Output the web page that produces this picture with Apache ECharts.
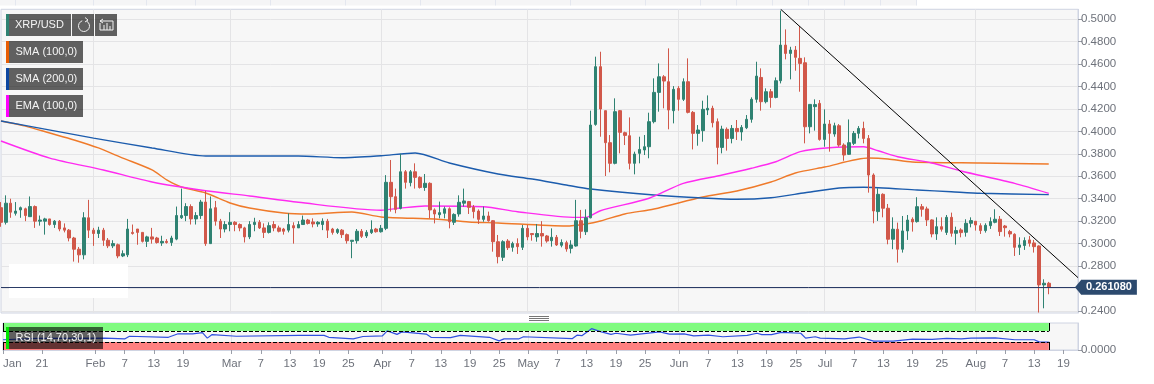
<!DOCTYPE html>
<html>
<head>
<meta charset="utf-8">
<style>html,body{margin:0;padding:0;background:#fff}#c{width:1154px;height:384px}</style>
<script src="https://cdn.jsdelivr.net/npm/echarts@6/dist/echarts.min.js"></script>
</head>
<body>
<div id="c"></div>
<script>
// Daily XRP/USD candles from 2019-01-13, in thousandths of a dollar: open, close, low, high
const candles = [
[332,319,315,337],[319,336,317,343],[336,328,323,340],[327,329,325,337],[330,332,323,333],[331,325,320,332],[324,333,324,342],[333,320,314,334],
[320,321,316,325],[320,322,308,323],[322,317,316,322],[317,320,314,321],[320,313,311,321],[314,312,310,318],[312,305,302,313],[305,295,284,306],
[295,290,283,297],[290,323,286,328],[323,312,305,339],[312,309,298,314],[309,312,305,315],[312,303,298,314],[303,298,296,305],[298,300,296,303],
[299,289,287,300],[289,291,288,294],[290,313,288,322],[310,309,308,317],[313,310,299,313],[310,302,301,310],[302,306,297,307],
[306,304,300,314],[305,301,300,306],[300.6,302,298,307],[302,301,300,304],[301,305,298,307],[304,325,303,333],[323,325,322,349],[325,333,320,336],
[333,322,317,335],[322,325,317,328],[325,337,322,339],[337,300,298,347],[300,331,300,342],[332,320,316,338],[320,313,305,322],[313,317,310,320],
[317,319,311,328],[319,317,311,320],[317,314,311,318],[314,306,301,315],[306,317,304,320],[317,319,311,323],[319,314,313,321],[314,310,305,318],
[310,316,309,319],[317,314,311,320],[314,311,310,316],[313,311,308,314],[312,317,310,327],[316,314,300,319],[314,317,314,320],[317,321,317,325],[321,318,317,322],
[319.3,317.5,314.5,322.5],[317.5,319,315,320],[317,320,312,322.5],[320,312,305,322],[313,310,308,314],[310,312.5,308.5,313.6],[312,308,305,313],[308,302.6,300,309],
[302,303,287,303],[302.6,311,300,313],[311,306.5,305,313],[306.8,310,305,312],[309.8,312.4,308.6,320.7],[313,310.6,309.8,314],[310.6,313.6,309.8,316.6],[313.6,354.6,312,361],
[354.6,341.8,328.5,374.5],[341.8,330.5,327,349],[331.4,364,330.5,380],[364,354.6,349,365.5],[354.3,364,351,365.5],[364,359,349,371.5],[359,350,349,360],[350,353.7,347,362],
[353.7,330,322.5,354.6],[330,326.4,318,331.4],[325.8,327.6,322.5,337.4],[327,331,322.5,333],[331,319.5,313.6,332.3],[319,326,316.6,327],[326.4,336.8,324,343],[336,338,333,349],
[337.4,332.3,326.4,338],[332.3,328.5,322.5,334.4],[329,321.6,317.5,330.5],[321.6,324.6,319.5,333],[324.6,320.4,319.5,328.5],[320.4,301.7,292.8,321],[301.7,288.4,282.4,307.7],[287.8,301.7,284.5,303],
[302.3,296.4,294.3,304],[296.7,300,292.8,301.7],[300,297.3,290.8,304.7],[296.7,313.6,294.3,316.6],[313.6,306,303,316.6],[309,308,302.6,309],[306,309,301.7,317.5],[309,306.8,297.3,320],
[306.8,302.3,300.8,307.7],[302.6,305.6,297.3,313.6],[305.6,298.8,297.9,307.7],[298.5,301,296.7,303.8],[300.8,295.2,292.8,302.6],[295.8,298.8,291.3,303],[297.9,320.4,297.3,339],[320.4,311,304.7,330],
[310.6,323,307.7,330.5],[323,405.6,322.5,418.4],[406.2,457.6,405,466.5],[457.6,419.9,395.2,470.9],[418.4,389.9,360.2,418.4],[389.9,371.5,363.5,396.7],[371.5,417.5,370.6,429.4],[418.4,399.1,380.4,419],
[398.8,396.4,387.8,399.7],[396.1,371.5,366.1,412.4],[371.5,379.8,361.7,381.9],[380.4,383.9,371.5,395.2],[383.4,386.3,378.9,396.7],[386.3,408.6,376,416.6],[408.6,434.7,407.1,447.2],[434.7,448.6,417.5,460.5],
[448.6,444.8,420.5,450.1],[444.2,419,401.8,473.9],[418.4,437.4,407.1,440.3],[438.3,428.5,418.4,440.3],[428.5,444.2,427,447.2],[444.2,416.9,416,465],[416.9,398.2,383.9,418.1],[398.2,401.2,387.2,405.6],
[400.6,419.6,390.8,427.3],[419,420.5,414.5,432],[420.5,407.7,403.5,422.8],[408.6,385.7,370.6,411.5],[385.7,402,380.4,405],[401.8,393.7,382.8,403.5],[393.7,402.6,389.3,405.6],[402.6,399.7,392.3,410.1],
[399.4,403.5,391.7,405.6],[403.2,410.7,402,414.5],[410.7,428.5,407.7,430.3],[428.5,449.2,425.5,462],[448,426.4,418.4,456.1],[426.4,435.3,424.9,438.3],[435.3,430.2,421,437.7],[430.2,445.1,429.4,448],
[445.1,476.8,442.7,507.5],[476.8,469.4,464.1,490.8],[469.4,472.4,446.3,475.3],[472.4,465.9,454,476],[465,460.5,435.3,493.7],[461.1,404.1,389.3,465.9],[404.1,424,398.2,424],[422,423.8,400.6,428.5],
[424.9,392.8,391.7,427.9],[392.8,406.5,386.3,419.6],[406.5,398.2,381.9,410.1],[397.6,405,395.2,407.7],[405,387.8,386.3,406.5],[387.8,378.9,373.8,389.3],[379.5,389.9,378.9,410.6],[389.3,398.2,387.8,400.3],
[398.2,402.6,393.7,404.7],[402.6,393.7,389.3,408.6],[393.7,361.1,345.4,396.7],[361.1,329.1,318.1,362.6],[328.5,343.9,320.2,349.3],[343.9,331.5,323.4,344.8],[331.5,303.9,299.4,335.3],[303.9,312.8,295,323.4],
[312.8,295,283.1,318.7],[295,311.3,292,324.6],[311.3,321,303.3,325.5],[321.7,319.3,310.7,323.4],[319.6,332.9,318.7,341.3],[332.9,330.6,324,335.3],[330.9,321.1,315.7,332.9],[321.1,308.6,305.6,321.7],
[308.6,315.1,303.3,323.4],[315.1,312.8,310.7,323.4],[310,323.4,307.7,325.5],[323.4,309.2,306.2,327.6],[309.2,311.6,299.1,315.1],[312.2,309.8,305.6,313.7],[310.1,318.1,306.2,321.7],[318.1,320.5,314.5,323.4],
[319.9,316.6,311.6,320.2],[316,311.6,308.6,318.1],[311.6,316.3,309.8,318.1],[316,319.6,313.1,323.4],[319,321.7,318.1,330.6],[321.7,310.7,306.8,324.6],[315.7,314.2,306.2,316.6],[310.7,308.6,305.6,312.2],
[308.3,296.7,289,309.2],[296.7,298.8,289.9,305.6],[298.3,302.7,294.4,305.6],[303.3,300.3,297.3,306.8],[300.6,297.3,292,303.3],[297.9,263.2,238.6,298.5],[263.2,264.7,242.4,268.2],[264.7,261.08,254.9,265.9]
];
// Moving averages read at day offsets from the first candle: [day, thousandths]
const sma100 = [[0,409.2],[5,404.7],[10,398.5],[15,392.3],[20,385.2],[25,376.2],[31,365.6],[34,356.7],[37,350.4],[42,345.1],[47,336.2],[51,331.7],[58,327.3],[63,326.4],[72,328.2],[78,323.7],[89,321.9],[96,319.3],[102,318.4],[116,315.7],[120,317.5],[123,320.1],[128,326.4],[134,330.8],[144,341.5],[151,346.9],[158,354.9],[163,362.9],[169,368.2],[178,376.2],[182,375.4],[187,372.7],[201,371.8],[215,370.9]];
const sma200 = [[0,409.2],[9,402],[19,394],[31,385.2],[42,378],[61,378],[70,376.5],[78,378.3],[85,380.7],[92,371.8],[102,362],[109,357.5],[116,352.2],[121,348.6],[134,343.3],[144,340.6],[151,339.5],[158,340.9],[165,345.3],[172,349.5],[177,350.2],[188,347.8],[195,346.2],[201,344.8],[215,343.6]];
const ema100 = [[0,391.4],[10,376.2],[21,365.6],[31,354.9],[42,347.1],[51,342.4],[61,336.8],[78,329.7],[82,331.7],[87,333.5],[99,332.9],[106,328.4],[118,323.4],[120,323.4],[123,329.3],[133,340.4],[140,353.7],[148,361.1],[154,367.1],[159,372.9],[164,381.9],[170,385.4],[177,386.3],[180,382.7],[184,377.4],[191,371.8],[197,364.7],[208,353.7],[215,344.8]];
const rsi = [[0,38],[7,43],[21,44],[25,41],[26,51],[34,47],[36,60],[39,60],[41,64],[42,44],[43,57],[48,51],[61,54],[66,54],[67,47],[72,41],[74,50],[78,52],[79,71],[81,58],[82,67],[87,59],[88,47],[92,46],[94,54],[100,47],[102,34],[103,41],[106,41],[107,49],[117,42],[118,55],[119,53],[121,79],[123,67],[125,58],[126,62],[129,55],[135,67],[137,59],[140,60],[142,52],[145,55],[148,49],[153,54],[155,62],[156,57],[158,57],[160,65],[164,62],[165,44],[167,49],[168,44],[173,41],[176,48],[179,33],[183,33],[187,40],[191,39],[194,43],[197,41],[199,44],[204,45],[208,38],[212,38],[213,30],[215,29]];
const trendDays = [160, 221];
const trendPrices = [0.5087, 0.2697];
const lastPrice = 0.26108;
const yTicks = [0.24,0.26,0.28,0.30,0.32,0.34,0.36,0.38,0.40,0.42,0.44,0.46,0.48,0.50];
const tickDates = {'1-13':'Jan','1-21':'21','2-1':'Feb','2-7':'7','2-13':'13','2-19':'19','3-1':'Mar','3-7':'7','3-13':'13','3-19':'19','3-25':'25','4-1':'Apr','4-7':'7','4-13':'13','4-19':'19','4-25':'25','5-1':'May','5-7':'7','5-13':'13','5-19':'19','5-25':'25','6-1':'Jun','6-7':'7','6-13':'13','6-19':'19','6-25':'25','7-1':'Jul','7-7':'7','7-13':'13','7-19':'19','7-25':'25','8-1':'Aug','8-7':'7','8-13':'13','8-19':'19'};
const monthDays = [31,28,31,30,31,30,31,31];
const categories = [];
for (let m = 1; m <= 8; m++) for (let d = (m === 1 ? 13 : 1); d <= (m === 8 ? 22 : monthDays[m-1]); d++) categories.push(m + '-' + d);

const font = '"Liberation Sans", Arial, sans-serif';
const toPts = a => a.map(p => [categories[p[0]], p[1] / 1000]);
const isTick = (i, v) => tickDates[v] !== undefined;
const isMonth = (i, v) => /-1$/.test(v) && v !== '1-1';
const axisGrey = '#cfd4e2', gridGrey = '#e4e4e6', textGrey = '#6e727b';
const last = categories[candles.length - 1], first = categories[0];

const xCommon = {type:'category', data:categories, boundaryGap:false};
const lineS = (name, data, color) => ({name, type:'line', xAxisIndex:0, yAxisIndex:0, data:toPts(data), showSymbol:false, symbol:'none', smooth:0.25, lineStyle:{color, width:1.4}, z:3, silent:true});

function box(x,y,w,h,fill,z){return {type:'rect',shape:{x,y,width:w,height:h},style:{fill},z:z===undefined?100:z,silent:true};}
function label(x,y,text){return {type:'text',x,y,style:{text,fill:'#f4f4f4',font:'11px '+font,textVerticalAlign:'middle'},z:101,silent:true};}
function seg(p,stroke,lw){return {type:'polyline',shape:{points:p},style:{stroke,lineWidth:lw||1,fill:null},z:101,silent:true};}

const legendBox = 'rgba(0,0,0,0.61)';
const graphics = [
  // top strip of the page chrome
  box(0,0,917,5.5,'#f5f5f6',0),
  ...[15,93,146,195,270,345,420,495,570,645,700,736,772,808,844,880,916].map(x=>box(x,0,1,5.5,'#e4e7ef',0)),
  // blanked area
  box(9,264,119,34,'#ffffff',1),
  // pane splitter
  ...[316,318,320].map(y=>box(529,y,20,1,'#777777',5)),
  // legend
  box(6,14,3,22,'#2f8272'), box(9,14,62,22,legendBox), label(15,25,'XRP/USD'),
  box(72,14,22,22,legendBox), box(95,14,22,22,legendBox),
  {type:'arc',shape:{cx:84,cy:26,r:5.5,startAngle:-1.1,endAngle:-1.9,clockwise:true},style:{stroke:'#f2f2f2',lineWidth:1,fill:null},z:101,silent:true},
  seg([[85,17.5],[88,20],[85,22]],'#f2f2f2'),
  seg([[100,21],[113,21],[113,30],[100,30],[100,23]],'#f2f2f2'),
  seg([[103,19],[100,21],[103,23]],'#f2f2f2'),
  seg([[104,25],[104,30]],'#f2f2f2'), seg([[107,23],[107,30]],'#f2f2f2'), seg([[110,26],[110,30]],'#f2f2f2'),
  box(6,41,3,22,'#e85d04'), box(9,41,74,22,legendBox), label(15.5,52,'SMA (100,0)'),
  box(6,68,3,22,'#0d47a1'), box(9,68,74,22,legendBox), label(15.5,79,'SMA (200,0)'),
  box(6,95,3,22,'#ff00ff'), box(9,95,74,22,legendBox), label(15.5,106,'EMA (100,0)'),
  box(6,327,3,22,'#00e600'), box(9,327,94,22,legendBox), label(15.5,338,'RSI (14,70,30,1)'),
  // pointer of the price tag
  {type:'polygon',shape:{points:[[1075,287.3],[1081,280],[1081,294.4]]},style:{fill:'#2c4a6e'},z:6,silent:true}
];

const chart = echarts.init(document.getElementById('c'));
chart.setOption({
  animation:false,
  backgroundColor:'#ffffff',
  graphic:{elements:graphics},
  grid:[
    {left:1,right:76,top:9.3,bottom:71,show:true,backgroundColor:'#f7f7f7',borderColor:axisGrey,borderWidth:1},
    {left:1,right:76,top:323,height:27,show:true,backgroundColor:'#f7f7f7',borderColor:axisGrey,borderWidth:1}
  ],
  xAxis:[
    {...xCommon,gridIndex:0,axisLine:{show:false},axisTick:{show:false},axisLabel:{show:false},
     splitLine:{show:true,interval:isMonth,lineStyle:{color:gridGrey,width:1}}},
    {...xCommon,gridIndex:1,axisLine:{show:true,lineStyle:{color:axisGrey}},
     axisTick:{show:true,length:4,interval:isTick,lineStyle:{color:'#9a9ea8'}},
     axisLabel:{show:true,interval:isTick,hideOverlap:false,showMinLabel:true,showMaxLabel:true,alignMinLabel:'left',formatter:v=>tickDates[v]||'',color:textGrey,fontFamily:font,fontSize:11.5,margin:8},
     splitLine:{show:true,interval:isMonth,lineStyle:{color:gridGrey,width:1}}}
  ],
  yAxis:[
    {type:'value',gridIndex:0,position:'right',min:0.2382,max:0.5087,scale:true,
     axisLine:{show:true,lineStyle:{color:axisGrey}},
     axisTick:{show:true,length:4,customValues:yTicks,lineStyle:{color:'#9a9ea8'}},
     axisLabel:{customValues:yTicks,formatter:v=>v.toFixed(4),color:textGrey,fontFamily:font,fontSize:11.5,margin:3,padding:[2,0,0,0],showMinLabel:true,showMaxLabel:true},
     splitLine:{show:true,lineStyle:{color:gridGrey,width:1}}},
    {type:'value',gridIndex:1,position:'right',min:0,max:100,
     axisLine:{show:true,lineStyle:{color:axisGrey}},
     axisTick:{show:true,length:4,customValues:[0],lineStyle:{color:'#9a9ea8'}},
     axisLabel:{customValues:[0],formatter:v=>v.toFixed(4),color:textGrey,fontFamily:font,fontSize:11.5,margin:3},
     splitLine:{show:false}}
  ],
  series:[
    lineS('SMA (100,0)',sma100,'#ef7a2a'),
    lineS('SMA (200,0)',sma200,'#1c5cad'),
    lineS('EMA (100,0)',ema100,'#ff2bf0'),
    {name:'XRP/USD',type:'candlestick',xAxisIndex:0,yAxisIndex:0,barWidth:3,z:4,silent:true,
     data:candles.map(r=>r.map(v=>v/1000)),
     itemStyle:{color:'#2f8272',color0:'#d1584a',borderColor:'#2f8272',borderColor0:'#d1584a',borderWidth:1},
     markLine:{silent:true,symbol:'none',z:5,precision:6,
       lineStyle:{color:'#2a3b66',width:1,type:'solid'},
       label:{position:'end',distance:3,formatter:lastPrice.toFixed(6),color:'#ffffff',fontFamily:font,fontWeight:'bold',fontSize:11,backgroundColor:'#2c4a6e',padding:[2,5,2,5]},
       data:[{yAxis:lastPrice}]}},
    {name:'Trend',type:'line',xAxisIndex:0,yAxisIndex:0,data:trendDays.map((d,i)=>[categories[d],trendPrices[i]]),showSymbol:false,symbol:'none',lineStyle:{color:'#000000',width:1},z:5,silent:true},
    {name:'RSI (14,70,30,1)',type:'line',xAxisIndex:1,yAxisIndex:1,data:rsi.map(p=>[categories[p[0]],p[1]]),showSymbol:false,symbol:'none',lineStyle:{color:'#2f4fe0',width:1.2},z:4,silent:true,
     markArea:{silent:true,data:[
       [{coord:[first,100],itemStyle:{color:'#80fb80',opacity:1}},{coord:[last,70]}],
       [{coord:[first,30],itemStyle:{color:'#ff8080',opacity:1}},{coord:[last,0]}]]},
     markLine:{silent:true,symbol:'none',label:{show:false},lineStyle:{color:'#000000',width:1,type:'dashed',dashOffset:0},data:[
       [{coord:[first,70]},{coord:[last,70]}],
       [{coord:[first,30]},{coord:[last,30]}],
       [{coord:[last,100],lineStyle:{type:'solid'}},{coord:[last,70]}],
       [{coord:[last,30],lineStyle:{type:'solid'}},{coord:[last,0]}],
       [{coord:[first,100],lineStyle:{type:'solid'}},{coord:[first,70]}],
       [{coord:[first,30],lineStyle:{type:'solid'}},{coord:[first,0]}]]}}
  ]
});
</script>
</body>
</html>
